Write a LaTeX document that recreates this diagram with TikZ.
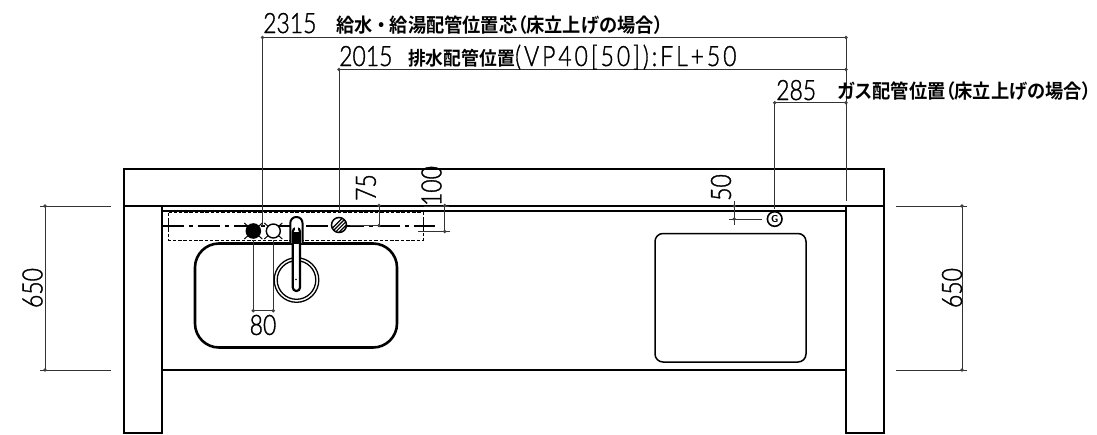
\documentclass[tikz,border=0pt]{standalone}
\usepackage{fontspec}
\newfontfamily\dimf{Lato Light}[FakeStretch=0.82,FakeBold=1.2]
\newfontfamily\cjkf{Noto Sans CJK JP Bold}[FakeStretch=0.935,RawFeature=+palt]
\tikzset{
  heavy/.style={line width=2pt,black},
  medium/.style={line width=1.5pt,black},
  dimline/.style={line width=0.9pt,black!80},
  dimdot/.style={circle,fill=black!75,inner sep=0pt,minimum size=3.8pt},
  dimtext/.style={font=\dimf\fontsize{28}{28}\selectfont,inner sep=0pt,text=black},
  rottext/.style={dimtext,rotate=90},
  jptext/.style={font=\cjkf\fontsize{19.5}{21}\selectfont,inner sep=0pt,text=black,anchor=base west},
  hidden/.style={line width=1pt,black,dash pattern=on 3.5pt off 1.8pt},
  centre/.style={line width=1.2pt,black,dash pattern=on 22pt off 5pt on 4pt off 5pt},
}
\begin{document}
\begin{tikzpicture}[x=1pt,y=-1pt]
\useasboundingbox (0,0) rectangle (1097,434);
% --- cabinet
\draw[heavy] (123.5,206) rectangle (884,168.5);
\draw[heavy] (123.5,206) rectangle (161.5,432.5);
\draw[heavy] (846,206) rectangle (884,432.5);
\draw[heavy] (161.5,211) -- (846,211);
\draw[heavy] (161.5,370) -- (846,370);
% --- sinks
\draw[line width=2.6pt,rounded corners=24pt] (195,243.5) rectangle (397,347.5);
\draw[medium,rounded corners=8pt] (655,233.5) rectangle (806,362);
% --- hidden pipe zone
\draw[hidden] (168.5,212.5) rectangle (423.5,240);
\draw[centre] (161.5,226) -- (435,226);
\draw[line width=0.8pt] (168.5,220) -- (168.5,232);
\draw[line width=0.8pt] (423.5,220) -- (423.5,232);
% --- named dimension points
\coordinate (hotT) at (253.3,240);   \coordinate (hotB) at (253.3,310.7);
\coordinate (colT) at (273.3,240);   \coordinate (colB) at (273.3,310.7);
\coordinate (supA) at (262.5,37.5);  \coordinate (supE) at (846,37.5);
\coordinate (supB) at (262.5,226);
\coordinate (drnA) at (339,69.5);    \coordinate (drnE) at (846,69.5);
\coordinate (drnB) at (339,212);
\coordinate (gasA) at (774.7,102.7); \coordinate (gasE) at (846,102.7);
\coordinate (gasB) at (774.7,209);
\coordinate (wallT) at (846,37.5);   \coordinate (wallB) at (846,201);
\coordinate (d75a) at (379,205.5);   \coordinate (d75b) at (379,225.5);
\coordinate (d100a) at (444.7,205.5);\coordinate (d100b) at (444.7,231.5);
\coordinate (d50a) at (734.3,206);   \coordinate (d50b) at (734.3,219);
\coordinate (lT) at (45,206);        \coordinate (lB) at (45,370);
\coordinate (rT) at (962,206);       \coordinate (rB) at (962,370);
% --- dimension lines
\draw[dimline] (supB) -- (supA) -- (supE);
\draw[dimline] (drnB) -- (drnA) -- (drnE);
\draw[dimline] (gasB) -- (gasA) -- (gasE);
\draw[dimline] (wallT) -- (wallB);
\draw[dimline] (hotT) -- (hotB) -- (colB) -- (colT);
\draw[dimline] (350,225.5) -- (d75b) -- (d75a);
\draw[dimline] (418,231.5) -- (450,231.5);
\draw[dimline] (d100a) -- (d100b);
\draw[dimline] (423.5,206) -- (449,206);
\draw[dimline] (734.3,201) -- (734.3,225);
\draw[dimline] (729,219) -- (762,219);
\draw[dimline] (lT) -- (lB);
\draw[dimline] (40,206) -- (111,206);
\draw[dimline] (40,370) -- (111,370);
\draw[dimline] (rT) -- (rB);
\draw[dimline] (896,206) -- (967,206);
\draw[dimline] (896,370) -- (967,370);
\foreach \p in {hotB,colB,supA,supE,drnA,drnE,gasA,gasE,d75a,d75b,d100a,d100b,d50a,d50b,lT,lB,rT,rB}
  \node[dimdot] at (\p) {};
% --- supply taps
\draw[line width=1pt] (244.3,223) -- (262.3,239) (244.3,239) -- (262.3,223);
\draw[line width=1pt] (264.3,223) -- (282.3,239) (264.3,239) -- (282.3,223);
\fill[black] (253.3,231) circle (7.8pt);
\draw[line width=1.4pt,fill=white] (273.3,231) circle (7pt);
% --- drain
\draw[medium,fill=white] (339,225) circle (7.5pt);
\begin{scope}
\clip (339,225) circle (7.5pt);
\foreach \d in {-1.8,0,1.8,3.6}
  \draw[line width=1.2pt] (332+\d,232+\d) -- (346+\d,218+\d);
\end{scope}
% --- faucet
\draw[line width=1.3pt] (296.5,280) circle (22.3pt);
\draw[line width=1.3pt,fill=white] (296.5,280) circle (19.3pt);
\draw[line width=2pt,fill=white,rounded corners=6pt] (290.3,243) -- (290.3,217) -- (302.5,217) -- (302.5,243);
\draw[line width=2.2pt,fill=white,rounded corners=3.5pt] (292.8,228) rectangle (300,291);
\fill[black] (293,232) rectangle (300,243.5);
\fill[white] (294.6,225) rectangle (298.4,232);
\fill[black] (296,279.5) circle (0.8pt);
% --- gas
\draw[line width=1.6pt,fill=white] (774.7,219) circle (7.3pt);
\node[inner sep=0pt,font=\sffamily\bfseries\fontsize{10}{10}\selectfont] (gas) at (774.7,219) {G};
% --- labels
\node[dimtext,anchor=base west] (t2315) at (263,33) {2315};
\node[jptext] (j2315) at (336,32.5) {給水\hspace{4pt}・\hspace{4pt}給湯配管位置芯（床立上げの場合）};
\node[dimtext,anchor=base west] (t2015) at (339,66) {2015};
\node[jptext,font=\cjkf\fontsize{19}{20}\selectfont] (j2015) at (408,65.5) {排水配管位置};
\node[dimtext,anchor=base west] (t2015b) at (515,66) {\addfontfeature{LetterSpace=10.5}(VP40[50]):FL+50};
\node[dimtext,anchor=base west] (t285) at (776,100) {285};
\node[jptext] (j285) at (838,98.5) {ガス配管位置（床立上げの場合）};
\node[dimtext] (t80) at (263,325) {80};
\node[rottext] (t75) at (366,187.5) {75};
\node[rottext] (t100) at (431.5,186) {100};
\node[rottext] (t50) at (721,187.5) {50};
\node[rottext] (t650l) at (32.5,288) {650};
\node[rottext] (t650r) at (952,288) {650};
\end{tikzpicture}
\end{document}
